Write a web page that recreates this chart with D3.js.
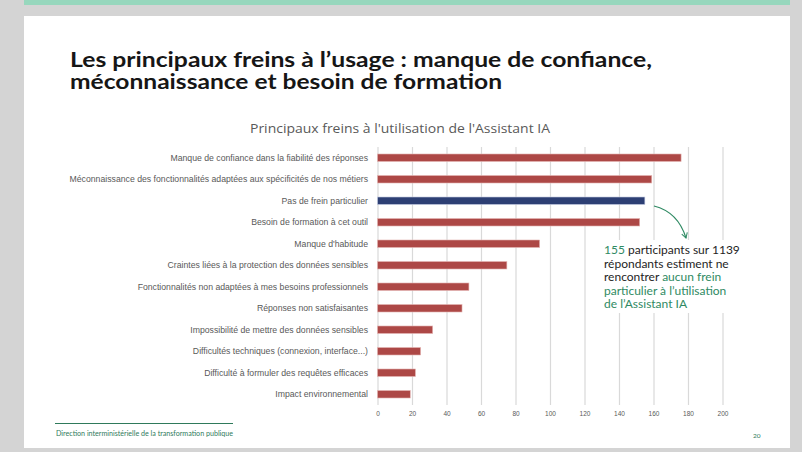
<!DOCTYPE html>
<html>
<head>
<meta charset="utf-8">
<script src="https://cdn.jsdelivr.net/npm/d3@7"></script>
<style>
  html, body { margin: 0; padding: 0; background: #d4d4d4; }
  svg { display: block; }
</style>
</head>
<body>
<div id="chart"></div>
<script>
// Data
const categories = [
  "Manque de confiance dans la fiabilité des réponses",
  "Méconnaissance des fonctionnalités adaptées aux spécificités de nos métiers",
  "Pas de frein particulier",
  "Besoin de formation à cet outil",
  "Manque d'habitude",
  "Craintes liées à la protection des données sensibles",
  "Fonctionnalités non adaptées à mes besoins professionnels",
  "Réponses non satisfaisantes ",
  "Impossibilité de mettre des données sensibles",
  "Difficultés techniques (connexion, interface...)",
  "Difficulté à formuler des requêtes efficaces",
  "Impact environnemental"
];
const values = [176, 159, 155, 152, 94, 75, 53, 49, 32, 25, 22, 19];
const highlighted = ["Pas de frein particulier"];
const tickValues = [0, 20, 40, 60, 80, 100, 120, 140, 160, 180, 200];

const W = 802, H = 452;
const red = "#ad4846", blue = "#2d3f74", green = "#2f8a63";

const svg = d3.select("#chart")
  .append("svg")
  .attr("width", W)
  .attr("height", H);

// Slide background
svg.append("rect").attr("x", 0).attr("y", 0).attr("width", W).attr("height", H).attr("fill", "#d4d4d4");
svg.append("rect").attr("x", 24).attr("y", 0).attr("width", 766).attr("height", 5).attr("fill", "#97d7bd");
svg.append("rect").attr("x", 24).attr("y", 16).attr("width", 766).attr("height", 432).attr("fill", "#fff");

// fit text to a given width
function fit(sel, w) {
  const len = sel.node().getComputedTextLength();
  if (len > 0) sel.attr("textLength", w).attr("lengthAdjust", "spacingAndGlyphs");
  return sel;
}

// Slide title
const title = svg.append("g")
  .attr("font-family", "Lato, 'Noto Sans', sans-serif")
  .attr("font-weight", "bold")
  .attr("font-size", 20.5)
  .attr("fill", "#161616");
fit(title.append("text").attr("x", 70).attr("y", 67).text("Les principaux freins à l’usage : manque de confiance,"), 582);
fit(title.append("text").attr("x", 70).attr("y", 89).text("méconnaissance et besoin de formation"), 432);

// Chart title
fit(svg.append("text")
  .attr("x", 250).attr("y", 133)
  .attr("font-family", "'Open Sans', sans-serif")
  .attr("font-size", 13.5)
  .attr("fill", "#595959")
  .text("Principaux freins à l'utilisation de l'Assistant IA"), 300);

// Scales
const x = d3.scaleLinear().domain([0, 200]).range([377.5, 722.5]);
const y = d3.scaleBand().domain(categories).range([147, 405]).paddingInner(0.65).paddingOuter(0.325);

// Gridlines + tick labels
const gx = svg.append("g")
  .attr("transform", "translate(0,405)")
  .call(d3.axisBottom(x).tickValues(tickValues).tickSize(-258).tickPadding(6).tickFormat(d3.format("d")));
gx.select(".domain").remove();
gx.selectAll(".tick line").attr("stroke", "#d9d9d9").attr("stroke-width", 1.2);
gx.selectAll(".tick text")
  .attr("font-family", "'Liberation Sans', Arial, sans-serif")
  .attr("font-size", 6.5)
  .attr("fill", "#595959");

// Category labels
svg.append("g")
  .selectAll("text")
  .data(categories)
  .enter()
  .append("text")
  .attr("x", 368)
  .attr("y", d => y(d) + y.bandwidth() / 2)
  .attr("dy", "0.35em")
  .attr("text-anchor", "end")
  .attr("font-family", "'Liberation Sans Narrow', 'Liberation Sans', Arial, sans-serif")
  .attr("font-size", 8.7)
  .attr("fill", "#595959")
  .text(d => d);

// Bars
svg.append("g")
  .selectAll("rect")
  .data(categories)
  .enter()
  .append("rect")
  .attr("x", x(0))
  .attr("y", d => y(d))
  .attr("width", (d, i) => x(values[i]) - x(0))
  .attr("height", y.bandwidth())
  .attr("fill", d => highlighted.includes(d) ? blue : red)
  .attr("stroke", d => highlighted.includes(d) ? "#c9d0e6" : "#e6b8b6")
  .attr("stroke-width", 0.6);

// Annotation box (hides gridlines behind text)
svg.append("rect").attr("x", 600).attr("y", 240).attr("width", 145).attr("height", 73).attr("fill", "#fff");

// Arrow
svg.append("defs").append("marker")
  .attr("id", "arrowhead")
  .attr("viewBox", "0 0 10 10")
  .attr("refX", 8).attr("refY", 5)
  .attr("markerWidth", 6).attr("markerHeight", 6)
  .attr("orient", "auto")
  .append("path")
  .attr("d", "M1,1 L8,5 L1,9")
  .attr("fill", "none")
  .attr("stroke", green)
  .attr("stroke-width", 1.4);

svg.append("path")
  .attr("d", "M654,206 Q678,212 686,238")
  .attr("fill", "none")
  .attr("stroke", green)
  .attr("stroke-width", 1.2)
  .attr("marker-end", "url(#arrowhead)");

// Annotation text
const noteLines = [
  [["155", green], [" participants sur 1139", "#1e1e1e"]],
  [["répondants estiment ne", "#1e1e1e"]],
  [["rencontrer ", "#1e1e1e"], ["aucun frein", green]],
  [["particulier à l’utilisation", green]],
  [["de l’Assistant IA", green]]
];
const note = svg.append("g")
  .attr("font-family", "Lato, 'Noto Sans', sans-serif")
  .attr("font-size", 12);
noteLines.forEach((line, i) => {
  const t = note.append("text").attr("x", 604).attr("y", 254 + i * 13.6);
  line.forEach(s => t.append("tspan").attr("fill", s[1]).text(s[0]));
});

// Footer
svg.append("line").attr("x1", 55).attr("x2", 233).attr("y1", 423.5).attr("y2", 423.5)
  .attr("stroke", "#2f7a5b").attr("stroke-width", 1);
fit(svg.append("text")
  .attr("x", 56).attr("y", 436)
  .attr("font-family", "Lato, sans-serif")
  .attr("font-size", 7)
  .attr("fill", "#2f7a5b")
  .text("Direction interministérielle de la transformation publique"), 177);
svg.append("text")
  .attr("x", 753).attr("y", 438)
  .attr("font-family", "Lato, sans-serif")
  .attr("font-size", 6.5)
  .attr("fill", "#2f7a5b")
  .text("20");
</script>
</body>
</html>
